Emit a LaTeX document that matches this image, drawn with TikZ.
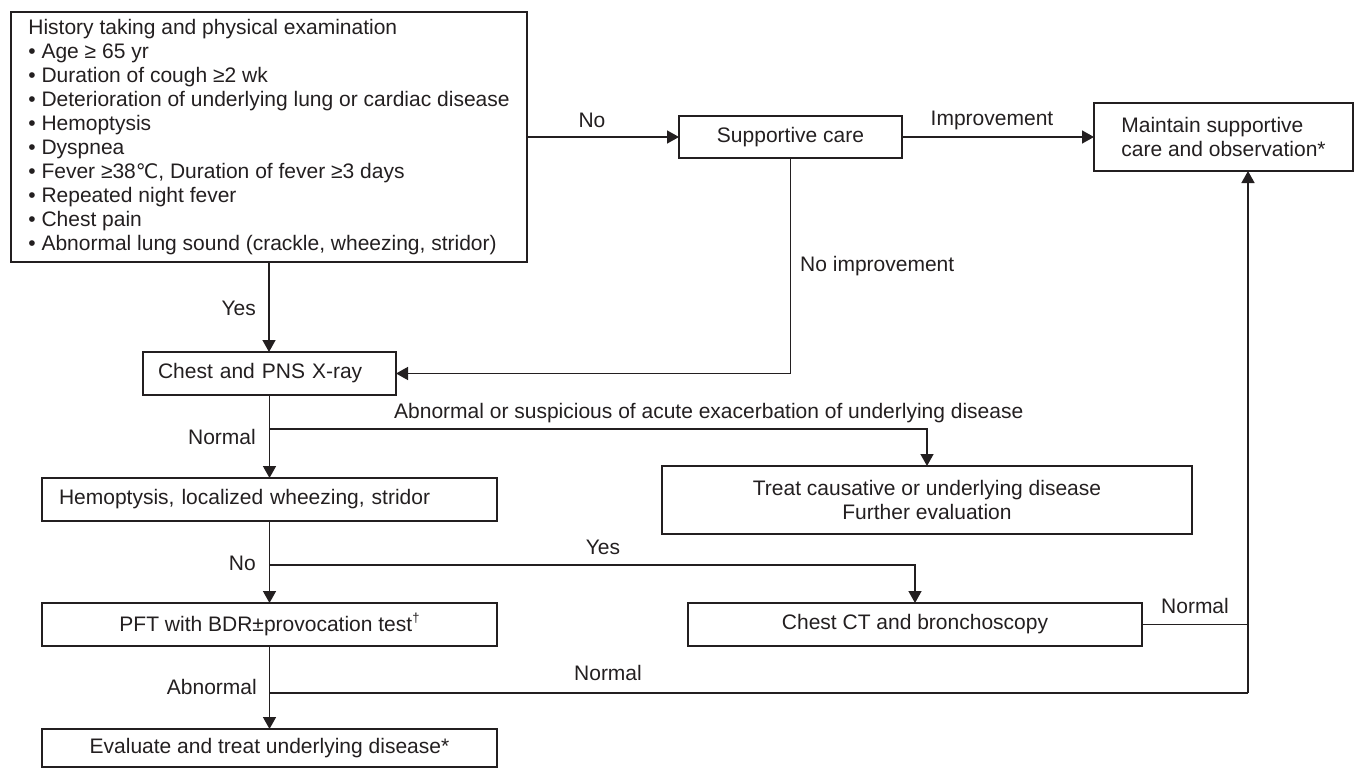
\documentclass[tikz,border=0pt]{standalone}
\usepackage{fontspec}
\setmainfont{Liberation Sans}
\newfontfamily\djv{DejaVu Sans}
\usetikzlibrary{arrows.meta}
\definecolor{ink}{RGB}{35,31,32}
\begin{document}
\begin{tikzpicture}[x=1pt,y=-1pt,
  box/.style={draw=ink, line width=1.5pt, text=ink, font=\fontsize{21}{24}\selectfont, inner sep=0pt, outer sep=0pt},
  lbl/.style={text=ink, font=\fontsize{21}{24}\selectfont, inner sep=0pt},
  conn/.style={draw=ink, line width=1.5pt},
  arr/.style={conn, -{Triangle[length=12pt,width=13pt]}}]
\useasboundingbox (0,0) rectangle (1355,768);

% boxes
\node[box, minimum width=516pt, minimum height=250pt, align=left] (hist) at (269,137)
 {History taking and physical examination\\
  • Age ≥ 65 yr\\
  • Duration of cough ≥2 wk\\
  • Deterioration of underlying lung or cardiac disease\\
  • Hemoptysis\\
  • Dyspnea\\
  • Fever ≥38{\djv\fontsize{20}{24}\selectfont ℃}, Duration of fever ≥3 days\\
  • Repeated night fever\\
  • Chest pain\\
  • Abnormal lung sound (crackle, wheezing, stridor)};
\node[box, minimum width=223pt, minimum height=42pt] (sup) at (790.5,137) {Supportive care};
\node[box, minimum width=259pt, minimum height=68pt, align=left] (maint) at (1223.5,137) {Maintain supportive\\care and observation*};
\node[box, minimum width=253pt, minimum height=43pt, text width=223pt, align=left] (chest) at (269.5,373.5) {Chest and PNS X-ray};
\node[box, minimum width=455pt, minimum height=43pt, text width=421pt, align=left] (hemo) at (269.5,499.5) {Hemoptysis, localized wheezing, stridor};
\node[box, minimum width=530pt, minimum height=68pt, align=center] (treat) at (927,500) {Treat causative or underlying disease\\Further evaluation};
\node[box, minimum width=455pt, minimum height=43pt] (pft) at (269.5,624.5) {PFT with BDR±provocation test\raisebox{0.45em}{\fontsize{13}{13}\selectfont †}};
\node[box, minimum width=454pt, minimum height=43pt] (ct) at (915,624.5) {Chest CT and bronchoscopy};
\node[box, minimum width=455pt, minimum height=38pt] (eval) at (269.5,748) {Evaluate and treat underlying disease*};

% junctions
\coordinate (j1) at (269.5,429);
\coordinate (j2) at (269.5,565);
\coordinate (j3) at (269.5,693);
\coordinate (r3) at (1248,693);

% connectors
\draw[arr] (hist.south) -- (hist.south |- chest.north);
\draw[arr] (hist.east) -- (sup.west);
\draw[arr] (sup.east) -- (maint.west);
\draw[arr] (sup.south) |- (chest.east);
\draw[arr] (chest.south) -- (hemo.north);
\draw[arr] (j1) -| (treat.north);
\draw[arr] (hemo.south) -- (pft.north);
\draw[arr] (j2) -| (ct.north);
\draw[arr] (pft.south) -- (eval.north);
\draw[conn] (j3) -- (r3);
\draw[arr] (r3) -- (r3 |- maint.south);
\draw[conn] (ct.east) -- (ct.east -| r3);

% labels
\node[lbl, anchor=east] (lyes1) at (256,308) {Yes};
\node[lbl] (lno1) at (592,120) {No};
\node[lbl] (limp) at (992,120) {Improvement};
\node[lbl, anchor=west] (lnoimp) at (800,266) {No improvement};
\node[lbl, anchor=west] (labn) at (394,413) {Abnormal or suspicious of acute exacerbation of underlying disease};
\node[lbl, anchor=east] (lnorm1) at (256,437) {Normal};
\node[lbl, anchor=east] (lno2) at (256,563) {No};
\node[lbl] (lyes2) at (603,547) {Yes};
\node[lbl] (lnorm2) at (1195,606) {Normal};
\node[lbl, anchor=east] (labn2) at (257,687) {Abnormal};
\node[lbl] (lnorm3) at (608,673) {Normal};
\end{tikzpicture}
\end{document}
